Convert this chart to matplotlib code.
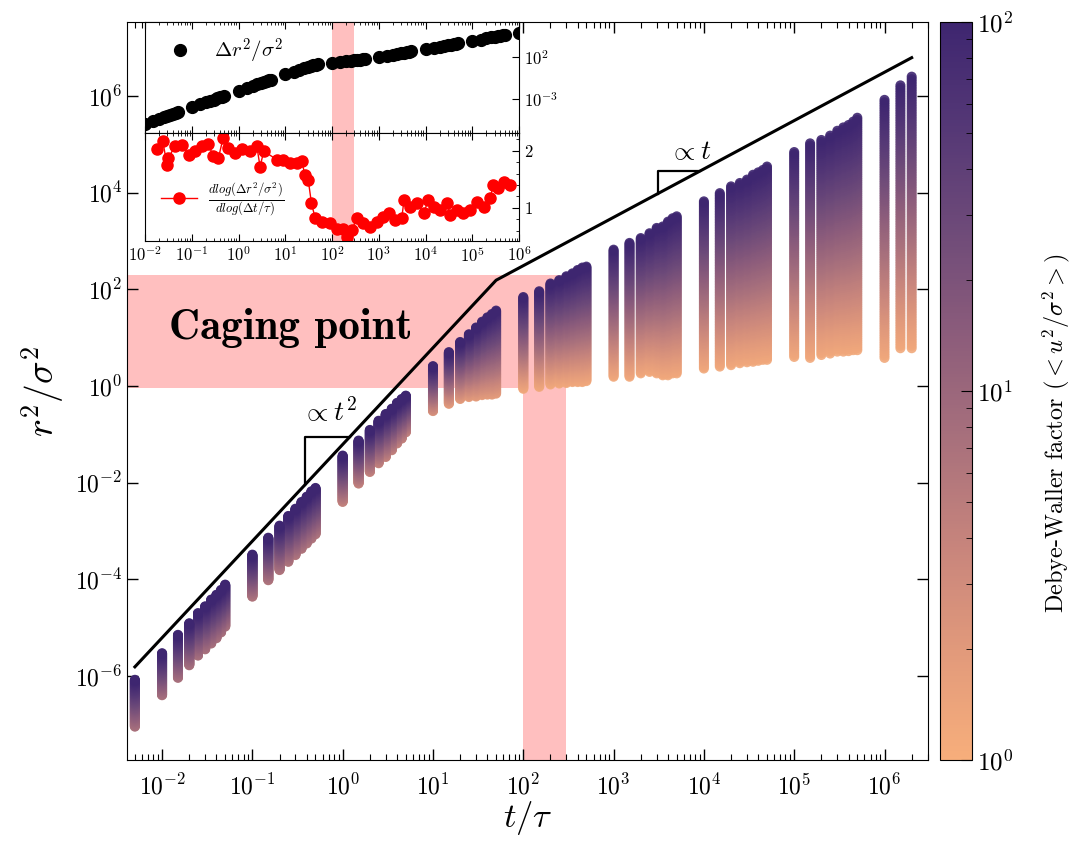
import numpy as np
import matplotlib
matplotlib.use("Agg")
import matplotlib.pyplot as plt
import matplotlib.colors as mcolors
from matplotlib.ticker import LogLocator, NullLocator, MultipleLocator, NullFormatter

plt.rcParams.update({
    "font.family": "serif",
    "font.serif": ["cmr10", "DejaVu Serif"],
    "mathtext.fontset": "cm",
    "axes.formatter.use_mathtext": True,
})

# ---- main panel: MSD columns (one column per lag time) ----
times = [0.005, 0.01, 0.015, 0.02, 0.025, 0.03, 0.035, 0.04, 0.045, 0.05,
         0.1, 0.15, 0.2, 0.25, 0.3, 0.35, 0.4, 0.45, 0.5,
         1, 1.5, 2, 2.5, 3, 3.5, 4, 4.5, 5,
         10, 15, 20, 25, 30, 35, 40, 45, 50,
         100, 150, 200, 250, 300, 350, 400, 450, 500,
         1e3, 1.5e3, 2e3, 2.5e3, 3e3, 3.5e3, 4e3, 4.5e3, 5e3,
         1e4, 1.5e4, 2e4, 2.5e4, 3e4, 3.5e4, 4e4, 4.5e4, 5e4,
         1e5, 1.5e5, 2e5, 2.5e5, 3e5, 3.5e5, 4e5, 4.5e5, 5e5,
         1e6, 1.5e6, 2e6]

# log10 of the highest / lowest MSD in each column
top_log = [-6.08, -5.53, -5.15, -4.91, -4.70, -4.56, -4.42, -4.32, -4.22, -4.11,
           -3.49, -3.14, -2.89, -2.69, -2.54, -2.40, -2.29, -2.18, -2.11,
           -1.44, -1.13, -0.91, -0.72, -0.58, -0.47, -0.35, -0.27, -0.20,
           0.41, 0.70, 0.91, 1.07, 1.21, 1.33, 1.42, 1.49, 1.56,
           1.84, 1.96, 2.12, 2.19, 2.27, 2.33, 2.40, 2.45, 2.47,
           2.82, 2.96, 3.06, 3.16, 3.27, 3.30, 3.40, 3.47, 3.51,
           3.82, 3.99, 4.13, 4.20, 4.27, 4.37, 4.42, 4.47, 4.54,
           4.84, 5.02, 5.09, 5.18, 5.28, 5.35, 5.40, 5.47, 5.55,
           5.92, 6.22, 6.40]
bottom_log = [-7.05, -6.40, -6.04, -5.78, -5.58, -5.45, -5.33, -5.22, -5.10, -4.98,
              -4.36, -4.02, -3.81, -3.64, -3.50, -3.37, -3.26, -3.16, -3.07,
              -2.40, -2.02, -1.78, -1.60, -1.47, -1.33, -1.19, -1.09, -0.96,
              -0.52, -0.37, -0.27, -0.23, -0.22, -0.19, -0.18, -0.18, -0.16,
              -0.06, -0.02, 0.03, 0.05, 0.06, 0.08, 0.08, 0.08, 0.10,
              0.19, 0.19, 0.26, 0.29, 0.26, 0.22, 0.22, 0.26, 0.26,
              0.36, 0.40, 0.43, 0.47, 0.49, 0.50, 0.52, 0.54, 0.54,
              0.60, 0.58, 0.64, 0.67, 0.71, 0.71, 0.72, 0.74, 0.74,
              0.58, 0.78, 0.78]
# Debye-Waller factor seen at the bottom / top of each column
bottom_dw = [7] * 10 + [6] * 9 + [4] * 9 + [2.5] + [1.8] * 8 + [1.2] * 39
top_dw = 100

# ballistic / diffusive guide line
line_t = [0.005, 50, 2e6]
line_y = [1.54e-6, 154, 6.2e6]
tri2_t = [0.38, 0.38, 1.2]
tri2_y = [0.0089, 0.089, 0.089]
tri1_t = [3100, 3100, 9100]
tri1_y = [9550, 28000, 28000]

# ---- inset: mean MSD and its log slope ----
mean_log = [-6.6, -6.05, -5.70, -5.45, -5.25, -5.10, -4.96, -4.85, -4.75, -4.65,
            -4.05, -3.70, -3.45, -3.25, -3.10, -2.96, -2.85, -2.75, -2.65,
            -2.05, -1.70, -1.46, -1.27, -1.11, -0.98, -0.87, -0.77, -0.68,
            -0.05, 0.27, 0.50, 0.67, 0.82, 0.94, 1.04, 1.12, 1.18,
            1.35, 1.46, 1.54, 1.60, 1.65, 1.70, 1.74, 1.77, 1.80,
            2.05, 2.22, 2.34, 2.44, 2.52, 2.58, 2.64, 2.69, 2.73,
            3.00, 3.18, 3.30, 3.40, 3.48, 3.55, 3.60, 3.65, 3.70,
            4.00, 4.18, 4.32, 4.43, 4.52, 4.60, 4.66, 4.72, 4.77,
            4.98, 5.20, 5.30]
slope_logt = [-1.75, -1.62, -1.53, -1.50, -1.36, -1.21, -1.07, -0.93, -0.79, -0.65,
              -0.54, -0.43, -0.33, -0.22, -0.07, 0.07, 0.25, 0.39, 0.46, 0.54,
              0.82, 0.96, 1.10, 1.25, 1.35, 1.42, 1.49, 1.56, 1.64, 1.78,
              1.96, 2.10, 2.24, 2.31, 2.42, 2.53, 2.67, 2.81, 2.96, 3.10,
              3.21, 3.35, 3.49, 3.54, 3.67, 3.81, 3.96, 4.06, 4.17, 4.31,
              4.46, 4.53, 4.67, 4.81, 4.95, 5.10, 5.24, 5.38, 5.45, 5.56,
              5.67, 5.81]
slope_val = [2.02, 2.16, 1.75, 1.87, 2.08, 2.09, 1.93, 1.99, 2.08, 2.12,
             1.90, 1.87, 2.22, 2.05, 1.96, 2.02, 1.99, 2.08, 1.72, 1.99,
             1.84, 1.84, 1.78, 1.78, 1.81, 1.58, 1.49, 1.08, 0.82, 0.76,
             0.73, 0.64, 0.64, 0.50, 0.61, 0.82, 0.73, 0.67, 0.76, 0.85,
             0.92, 0.79, 0.82, 1.14, 1.02, 1.08, 0.91, 1.14, 1.02, 0.96,
             1.08, 0.88, 0.96, 0.91, 0.96, 1.11, 1.02, 1.17, 1.40, 1.34,
             1.46, 1.40]

cage_t = (100, 300)
cage_y = (0.9, 200)

main_xticks = [1e-2, 1e-1, 1e0, 1e1, 1e2, 1e3, 1e4, 1e5, 1e6]
main_yticks = [1e-6, 1e-4, 1e-2, 1e0, 1e2, 1e4, 1e6]

pink = "#ffbfbf"
cmap = mcolors.LinearSegmentedColormap.from_list(
    "dw", ["#f7ae7b", "#e29a7b", "#c8857c", "#a9717c", "#8d5d7b",
           "#6f4b79", "#553876", "#3e2670"])
norm = mcolors.LogNorm(1, 100)


def main():
    fig = plt.figure(figsize=(10.72, 8.41), dpi=100)
    ax = fig.add_axes([0.1185, 0.0963, 0.7472, 0.8775])
    ax.set_xscale("log")
    ax.set_yscale("log")
    ax.set_xlim(10 ** -2.388, 10 ** 6.482)
    ax.set_ylim(10 ** -7.74, 10 ** 7.53)

    # caging region
    ax.fill_between([1e-4, cage_t[1]], cage_y[0], cage_y[1], color=pink, lw=0, zorder=0)
    ax.fill_between(list(cage_t), 1e-9, cage_y[0], color=pink, lw=0, zorder=0)

    # columns drawn level by level, low DW first
    t = np.array(times)
    lo = np.array(bottom_log)
    hi = np.array(top_log)
    dlo = np.log10(bottom_dw)
    dhi = np.log10(top_dw)
    for f in np.linspace(0, 1, 110):
        y = 10 ** (lo + f * (hi - lo))
        dw = 10 ** (dlo + f * (dhi - dlo))
        ax.scatter(t, y, c=dw, cmap=cmap, norm=norm, s=52, linewidths=0,
                   alpha=0.9, zorder=2)

    ax.plot(line_t, line_y, color="black", lw=2.2, zorder=3)
    ax.plot(tri2_t, tri2_y, color="black", lw=1.6, zorder=3)
    ax.plot(tri1_t, tri1_y, color="black", lw=1.6, zorder=3)
    ax.text(0.72, 0.29, r"$\propto t^2$", fontsize=20, ha="center", va="center")
    ax.text(7100, 69000, r"$\propto t$", fontsize=20, ha="center", va="center")
    ax.text(0.0118, 16, "Caging point", family="cmb10", fontsize=31,
            ha="left", va="center", zorder=4)

    ax.set_xticks(main_xticks)
    ax.set_yticks(main_yticks)
    ax.yaxis.set_minor_locator(NullLocator())
    ax.xaxis.set_minor_locator(LogLocator(base=10, subs=np.arange(2, 10), numticks=100))
    ax.xaxis.set_minor_formatter(NullFormatter())
    ax.tick_params(which="both", direction="in", top=True, right=True, labelsize=17)
    ax.tick_params(which="major", length=8, width=1)
    ax.tick_params(which="minor", length=4, width=0.8)
    ax.tick_params(axis="x", pad=10)
    ax.set_xlabel(r"$t/\tau$", fontsize=25, labelpad=0)
    ax.set_ylabel(r"$r^2/\sigma^2$", fontsize=27, labelpad=6)

    # colorbar
    cax = fig.add_axes([0.8769, 0.0963, 0.0299, 0.8775])
    sm = plt.cm.ScalarMappable(norm=norm, cmap=cmap)
    cb = fig.colorbar(sm, cax=cax)
    cb.ax.tick_params(which="both", direction="in", labelsize=18)
    cb.ax.tick_params(which="major", length=8)
    cb.ax.tick_params(which="minor", length=4)
    cb.set_label(r"Debye-Waller factor ($<u^2/\sigma^2>$)", fontsize=17.5, labelpad=20)
    cb.ax.yaxis.label.set_y(0.443)

    # inset
    ax1 = fig.add_axes([0.1353, 0.8415, 0.3489, 0.1323])
    ax2 = fig.add_axes([0.1353, 0.7138, 0.3489, 0.1277], sharex=ax1)
    for a in (ax1, ax2):
        a.set_xscale("log")
        a.axvspan(cage_t[0], cage_t[1], color=pink, lw=0, zorder=0)
        a.tick_params(which="both", direction="in", top=True, bottom=True,
                      left=False, right=True, labelleft=False, labelright=True,
                      labelsize=12)
        a.tick_params(which="major", length=5)
        a.tick_params(which="minor", length=2.5)
    ax1.set_xlim(1e-2, 1e6)
    ax1.set_xticks(main_xticks)
    ax1.xaxis.set_minor_locator(LogLocator(base=10, subs=np.arange(2, 10), numticks=100))
    ax1.xaxis.set_minor_formatter(NullFormatter())
    ax1.tick_params(labelbottom=False)

    ax1.set_yscale("log")
    ax1.plot(times, 10 ** np.array(mean_log), "o", color="black", ms=8.5,
             label=r"$\Delta r^2/\sigma^2$")
    ax1.set_ylim(10 ** -7.2, 10 ** 6.3)
    ax1.set_yticks([1e-3, 1e2])
    ax1.yaxis.set_minor_locator(NullLocator())
    ax1.legend(loc="upper left", frameon=False, fontsize=15, handletextpad=0.6,
               borderaxespad=0.3)

    ax2.plot(10 ** np.array(slope_logt), slope_val, "o-", color="red", ms=8, lw=1,
             label=r"$\frac{dlog(\Delta r^2/\sigma^2)}{dlog(\Delta t/\tau)}$")
    ax2.set_ylim(0.43, 2.30)
    ax2.yaxis.set_major_locator(MultipleLocator(1))
    ax2.yaxis.set_minor_locator(MultipleLocator(0.2))
    ax2.legend(loc="lower left", frameon=False, fontsize=13, handletextpad=0.6,
               bbox_to_anchor=(0.0, 0.05))

    fig.savefig("out.png", dpi=100)


if __name__ == "__main__":
    main()
